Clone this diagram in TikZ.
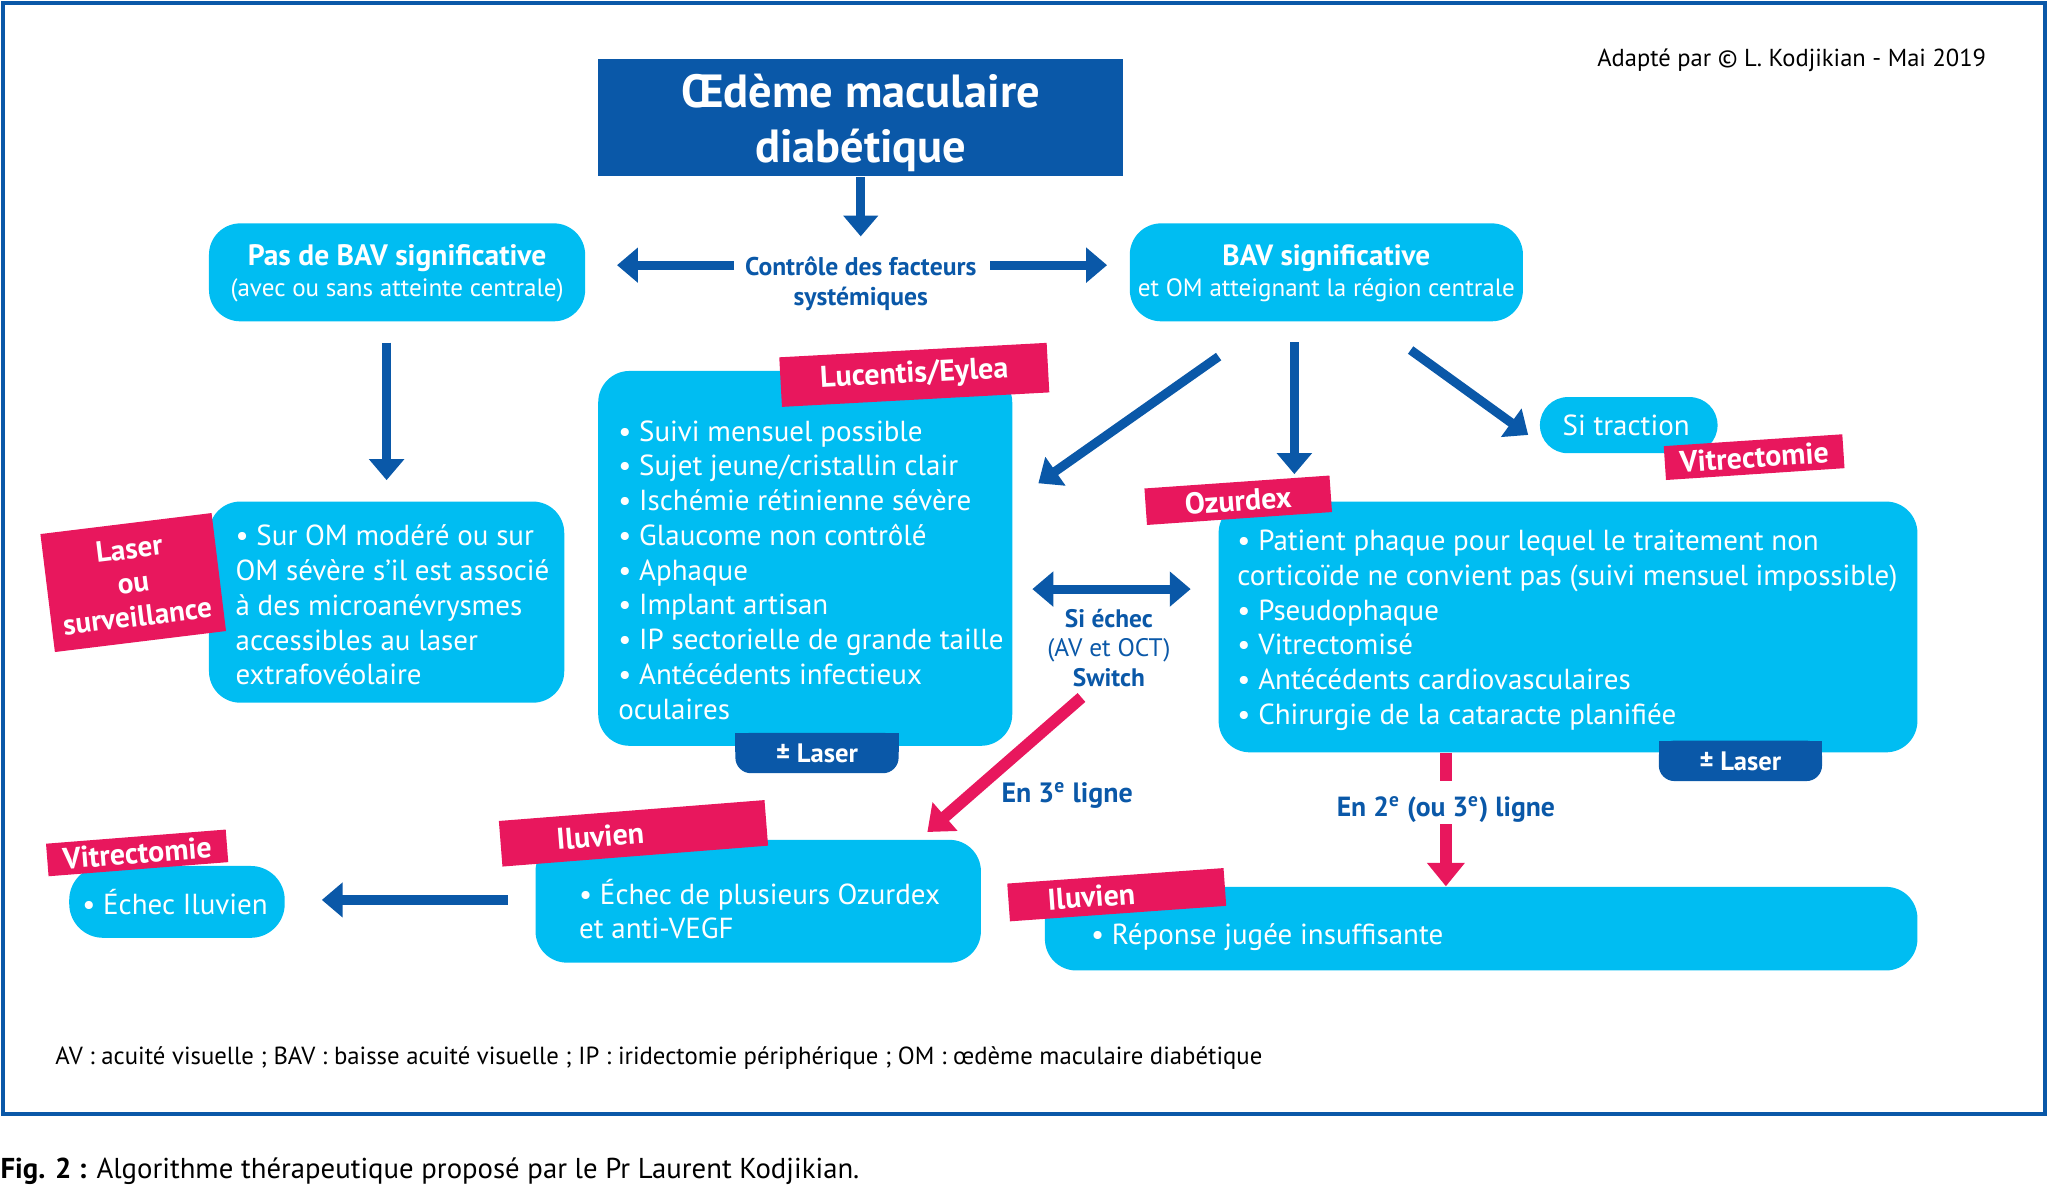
\documentclass[tikz,border=0pt]{standalone}
\usepackage{fontspec}
\setmainfont{PT Sans}
\usetikzlibrary{arrows.meta,fit,calc}
\definecolor{dblue}{HTML}{0A58A8}
\definecolor{lblue}{HTML}{00BDF2}
\definecolor{mypink}{HTML}{E8175D}
\begin{document}
\begin{tikzpicture}[x=0.5pt,y=-0.5pt,
  box/.style={fill=lblue, rounded corners=12pt, inner sep=0pt, text=white},
  body/.style={text=white, inner sep=0pt, anchor=north west, align=left, font=\fontsize{11.1}{13.3}\selectfont},
  intext/.style={text=white, inner sep=0pt, align=center, font=\fontsize{11.1}{13}\selectfont},
  tag/.style={fill=mypink, inner sep=0pt, text=white, font=\bfseries\fontsize{11.5}{13}\selectfont, align=center},
  lab/.style={text=dblue, inner sep=0pt, align=center},
  barr/.style={draw=dblue, line width=3.5pt, -{Triangle[length=8pt,width=13pt]}},
  parr/.style={draw=mypink, line width=4.5pt, -{Triangle[length=9pt,width=14pt]}},
  tabtext/.style={inner sep=0pt, text=white, font=\bfseries\fontsize{10.2}{11}\selectfont}
]
\useasboundingbox (0,0) rectangle (1568,906.5);
% frame
\draw[dblue, line width=1.5pt] (2,2) rectangle (1566,853);

% title
\node[fit={(458,45) (860,135)}, fill=dblue, inner sep=0pt] (title) {};
\node[text=white, inner sep=0pt, align=center, font=\bfseries\fontsize{17.8}{21}\selectfont] (titlet) at (659,94) {Œdème maculaire\\diabétique};
\node[lab, font=\bfseries\fontsize{9.8}{11.5}\selectfont] (ctrl) at (659,217) {Contrôle des facteurs\\systémiques};
\node[text=black, inner sep=0pt, anchor=east, font=\fontsize{9.4}{11}\selectfont] (copy) at (1521,46) {Adapté par © L. Kodjikian - Mai 2019};

% top boxes
\node[box, fit={(160,171) (448,246)}] (noBAV) {};
\node[text=white, inner sep=0pt, align=center] (noBAVt) at (304,209)
  {{\bfseries\fontsize{11.3}{11.5}\selectfont Pas de BAV significative}\\{\fontsize{9.6}{11.5}\selectfont (avec ou sans atteinte centrale)}};
\node[box, fit={(865,171) (1166,246)}] (BAV) {};
\node[text=white, inner sep=0pt, align=center] (BAVt) at (1015.5,209)
  {{\bfseries\fontsize{11.2}{11.5}\selectfont BAV significative}\\{\fontsize{9.6}{11.5}\selectfont et OM atteignant la région centrale}};

% arrows top
\coordinate (t1) at (659,181);
\draw[barr] (title.south) -- (t1);
\coordinate (cl) at (562,203);
\coordinate (cr) at (758,203);
\draw[barr, shorten >=12pt] (cl) -- (noBAV.east |- cl);
\draw[barr, shorten >=8.5pt] (cr) -- (BAV.west |- cr);

% laser box
\node[box, fit={(160,384) (432,538)}] (laserbox) {};
\node[body] (lasert) at (180,401.5) {• Sur OM modéré ou sur\\OM sévère s’il est associé\\à des microanévrysmes\\accessibles au laser\\extrafovéolaire};
\draw[barr, shorten <=8pt, shorten >=8pt] ([xshift=-4pt]noBAV.south) -- ([xshift=-4pt]noBAV.south |- laserbox.north);
\node[tag, rotate=7, minimum width=66pt, minimum height=45.5pt, font=\bfseries\fontsize{11.2}{13}\selectfont] (tagLaser) at (102,446) {Laser\\ou\\surveillance};

% Lucentis box
\node[box, fit={(458,284) (775,571)}] (lucbox) {};
\node[body] (luct) at (473,321.5) {• Suivi mensuel possible\\• Sujet jeune/cristallin clair\\• Ischémie rétinienne sévère\\• Glaucome non contrôlé\\• Aphaque\\• Implant artisan\\• IP sectorielle de grande taille\\• Antécédents infectieux\\oculaires};
\node[tag, rotate=3.1, minimum width=102.5pt, minimum height=19pt] (tagLuc) at (700,287) {Lucentis/Eylea};
\fill[dblue, rounded corners=6pt] (563,561) rectangle (688,592);
\fill[dblue] (563,561) rectangle (688,576);
\node[tabtext] (tab1) at (625.5,577) {± Laser};

% Ozurdex box
\node[box, fit={(933,384) (1468,576)}] (ozbox) {};
\node[body] (ozt) at (947,405.5) {• Patient phaque pour lequel le traitement non\\corticoïde ne convient pas (suivi mensuel impossible)\\• Pseudophaque\\• Vitrectomisé\\• Antécédents cardiovasculaires\\• Chirurgie de la cataracte planifiée};
\node[tag, rotate=4, minimum width=71pt, minimum height=14pt] (tagOz) at (948,383) {Ozurdex};
\fill[dblue, rounded corners=6pt] (1270,567) rectangle (1395,598);
\fill[dblue] (1270,567) rectangle (1395,582);
\node[tabtext] (tab2) at (1332.5,583) {± Laser};

% Si traction
\node[box, fit={(1179,304) (1315,347)}, rounded corners=10.7pt] (trac) {};
\node[intext] (tract) at (1245,326) {Si traction};
\node[tag, rotate=3.8, minimum width=68.5pt, minimum height=13pt] (tagVit1) at (1343,350) {Vitrectomie};

% arrows from BAV
\coordinate (d1s) at (933,273);
\coordinate (d1e) at (795,370);
\draw[barr] (d1s) -- (d1e);
\coordinate (v1s) at (991,262);
\coordinate (v1e) at (991,363);
\draw[barr] (v1s) -- (v1e);
\coordinate (d2s) at (1080,268);
\coordinate (d2e) at (1170,333);
\draw[barr] (d2s) -- (d2e);

% switch
\draw[draw=dblue, line width=3.5pt, {Triangle[length=8pt,width=13pt]}-{Triangle[length=8pt,width=13pt]}]
  ([xshift=7.5pt]lucbox.east |- 0,451) -- ([xshift=-10.5pt]ozbox.west |- 0,451);
\node[lab, font=\fontsize{9.7}{11.2}\selectfont] (sw) at (849,496) {{\bfseries Si échec}\\(AV et OCT)\\{\bfseries Switch}};

% Iluvien middle
\node[box, fit={(410,643) (751,737)}] (ilu1) {};
\node[body] (ilu1t) at (443,672.5) {• Échec de plusieurs Ozurdex\\et anti-VEGF};
\node[tag, rotate=4.5, minimum width=102pt, minimum height=17.5pt, text width=59pt, align=left, inner xsep=21.5pt] (tagIlu1) at (485,638) {Iluvien};
\coordinate (p1s) at (828,534);
\coordinate (p1e) at (710,637);
\draw[parr] (p1s) -- (p1e);
\node[lab, font=\bfseries\fontsize{10.7}{11}\selectfont] (l3) at (817,609) {En 3\textsuperscript{e} ligne};

% Echec Iluvien
\node[box, fit={(53,663) (218,718)}, rounded corners=13pt] (echec) {};
\node[intext] (echect) at (134,691) {• Échec Iluvien};
\node[tag, rotate=4.5, minimum width=69pt, minimum height=12.5pt] (tagVit2) at (105,653) {Vitrectomie};
\draw[barr, shorten <=10.5pt, shorten >=14pt] (ilu1.west |- 0,689) -- (echec.east |- 0,689);

% Iluvien right
\node[box, fit={(800,679) (1468,743)}] (ilu2) {};
\node[body] (ilu2t) at (835,707) {• Réponse jugée insuffisante};
\node[tag, rotate=4.1, minimum width=83pt, minimum height=14.5pt, text width=53pt, align=left, inner xsep=15pt] (tagIlu2) at (855,685) {Iluvien};
\coordinate (p2a) at (1107,598);
\draw[draw=mypink, line width=4.5pt] (ozbox.south -| p2a) -- (p2a);
\node[lab, font=\bfseries\fontsize{10.6}{11}\selectfont] (l2) at (1107,620) {En 2\textsuperscript{e} (ou 3\textsuperscript{e}) ligne};
\coordinate (p2b) at (1107,631);
\draw[parr] (p2b) -- (ilu2.north -| p2b);

% footnote and caption
\node[text=black, inner sep=0pt, anchor=west, font=\fontsize{9.47}{11}\selectfont] (foot) at (42,810) {AV : acuité visuelle ; BAV : baisse acuité visuelle ; IP : iridectomie périphérique ; OM : œdème maculaire diabétique};
\node[text=black, inner sep=0pt, anchor=west, font=\fontsize{11}{12}\selectfont] (cap) at (0,897) {\textbf{Fig. 2 :} Algorithme thérapeutique proposé par le Pr Laurent Kodjikian.};
\end{tikzpicture}
\end{document}
